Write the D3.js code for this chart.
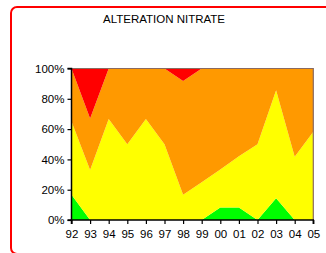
<!DOCTYPE html>
<html><head><meta charset="utf-8">
<script src="https://cdn.jsdelivr.net/npm/d3@7"></script>
<style>body{margin:0;background:#fff}svg{display:block}</style>
</head><body>
<svg id="c" width="326" height="253"></svg>
<script>
const years = ["92","93","94","95","96","97","98","99","00","01","02","03","04","05"];
const green  = [16.7, 0, 0, 0, 0, 0, 0, 0, 8.3, 8.3, 0, 14.3, 0, 0];
const yellow = [48.3, 33, 66.7, 50, 66.7, 50, 16.7, 25, 25, 33.7, 50, 71.4, 41.7, 58.3];
const orange = [35, 34, 33.3, 50, 33.3, 50, 75, 75, 66.7, 58, 50, 14.3, 58.3, 41.7];
const red    = [0, 33, 0, 0, 0, 0, 8.3, 0, 0, 0, 0, 0, 0, 0];
const yTicks = [0, 20, 40, 60, 80, 100];
const seriesNames = ["green","yellow","orange","red"];
const colors = ["#00ff00","#ffff00","#ff9900","#ff0000"];

const svg = d3.select("#c");
svg.append("rect").attr("x",11).attr("y",7).attr("width",330).attr("height",247)
  .attr("rx",6).attr("fill","none").attr("stroke","#ff0000").attr("stroke-width",2);

const font = "Arial, Liberation Sans, sans-serif";
svg.append("text").attr("x",164).attr("y",23).attr("text-anchor","middle")
  .attr("font-family",font).attr("font-size",11.5)
  .text("ALTERATION NITRATE");

const x = d3.scalePoint().domain(years).range([71.5,313.3]);
const y = d3.scaleLinear().domain([0,100]).range([220,68.5]);

const rows = years.map((yr,i)=>({yr, green:green[i], yellow:yellow[i], orange:orange[i], red:red[i]}));
const stack = d3.stack().keys(seriesNames).offset(d3.stackOffsetExpand);
const layers = stack(rows);
const area = d3.area().x(d=>x(d.data.yr)).y0(d=>y(d[0]*100)).y1(d=>y(d[1]*100));
svg.selectAll("path.a").data(layers).join("path").attr("class","a")
  .attr("d",area).attr("fill",(d,i)=>colors[i]);

svg.append("path").attr("d",`M${x("92")},${y(100)}H${x("05")}V${y(0)}`)
  .attr("fill","none").attr("stroke","#8a6a60").attr("stroke-width",1.2);

const yAxis = svg.append("g").attr("transform",`translate(${x("92")},0)`)
  .call(d3.axisLeft(y).tickValues(yTicks).tickFormat(d=>d+"%").tickSize(4).tickPadding(3));
const xAxis = svg.append("g").attr("transform",`translate(0,${y(0)})`)
  .call(d3.axisBottom(x).tickSize(4).tickPadding(6));
[yAxis,xAxis].forEach(g=>{
  g.select(".domain").attr("stroke","#000").attr("stroke-width",1.5);
  g.selectAll(".tick line").attr("stroke","#000").attr("stroke-width",1.2);
  g.selectAll("text").attr("font-family",font).attr("font-size",11.5).attr("fill","#000");
});
xAxis.select(".domain").attr("d",`M${x("92")},4V0H${x("05")}V4`);
yAxis.select(".domain").attr("d",`M-4,${y(0)}H0V${y(100)}H-4`);
</script>
</body></html>
